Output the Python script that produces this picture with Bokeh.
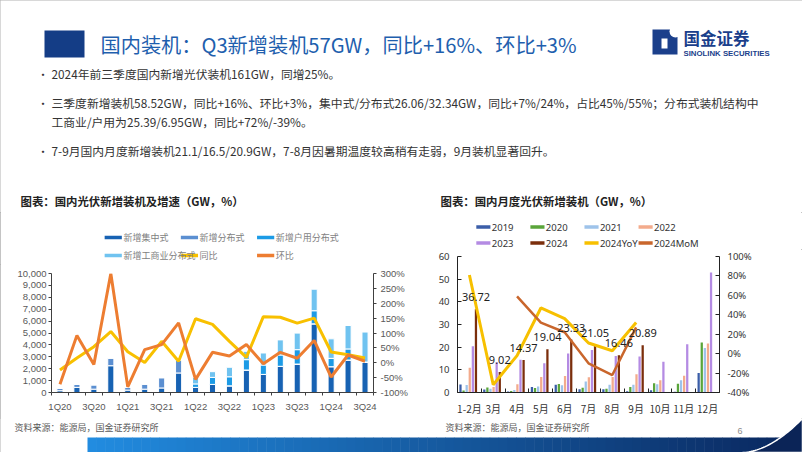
import numpy as np
from bokeh.plotting import figure
from bokeh.models import (Range1d, LinearAxis, FixedTicker, NumeralTickFormatter, ColumnDataSource)
from bokeh.layouts import column, row
from bokeh.transform import dodge
from bokeh.core.properties import value
from bokeh.embed import file_html
from bokeh.resources import INLINE

CJK = "Noto Sans CJK SC"
NAN = float("nan")

# ---------------- data: left chart (quarterly, 万kW) ----------------
quarters = ["1Q20", "2Q20", "3Q20", "4Q20", "1Q21", "2Q21", "3Q21", "4Q21",
            "1Q22", "2Q22", "3Q22", "4Q22", "1Q23", "2Q23", "3Q23", "4Q23",
            "1Q24", "2Q24", "3Q24"]
central = [150, 430, 280, 2250, 200, 280, 380, 1640, 430, 680, 560, 1890,
           1520, 2200, 2390, 5770, 2170, 2730, 2560]
distributed = [220, 270, 370, 650, 250, 430, 870, 1100, 0, 0, 0, 0,
               0, 0, 0, 0, 0, 0, 0]
household = [0, 0, 0, 0, 0, 0, 0, 0, 290, 590, 760, 870,
             790, 950, 1210, 1100, 700, 930, 0]
commercial = [0, 0, 0, 0, 0, 0, 0, 0, 550, 480, 800, 700,
              1010, 1270, 1390, 1810, 1640, 1970, 2520]
q_yoy = [-0.245, 0.16, 0.54, 1.05, 0.37, 0.01, 0.72, 0.05, 1.48, 1.29, 0.72,
         0.18, 1.55, 1.53, 1.33, 1.50, 0.36, 0.27, 0.16]
q_qoq = [-0.72, 0.92, -0.06, 3.00, -0.81, 0.44, 0.61, 1.34, -0.56, 0.35, 0.23,
         0.61, -0.03, 0.35, 0.15, 0.75, -0.48, 0.26, 0.05]
left_series = ["新增集中式", "新增分布式", "新增户用分布式", "新增工商业分布式", "同比", "环比"]
left_ticks_y = [0, 1000, 2000, 3000, 4000, 5000, 6000, 7000, 8000, 9000, 10000]
left_ticks_pct = [-1.0, -0.5, 0.0, 0.5, 1.0, 1.5, 2.0, 2.5, 3.0]

# ---------------- data: right chart (monthly, GW) ----------------
months = ["1-2月", "3月", "4月", "5月", "6月", "7月", "8月", "9月", "10月", "11月", "12月"]
y2019 = [3.5, 1.3, 0.4, 2.4, 3.4, 1.4, 1.4, 0.6, 1.0, 0.3, 8.6]
y2020 = [0.9, 2.2, 0.7, 2.0, 3.8, 2.1, 1.7, 2.4, 4.1, 3.9, 22.1]
y2021 = [3.3, 1.7, 1.1, 2.7, 3.2, 4.9, 3.4, 3.4, 3.6, 5.4, 19.6]
y2022 = [10.9, 2.4, 3.6, 6.8, 7.3, 6.7, 6.8, 8.1, 5.4, 7.4, 21.6]
y2023 = [20.4, 13.3, 14.5, 12.9, 17.2, 18.7, 16.1, 15.9, 13.6, 21.3, 52.9]
y2024 = [36.72, 9.02, 14.37, 19.04, 23.33, 21.05, 16.46, 20.89, NAN, NAN, NAN]
yoy2024 = [0.81, -0.32, -0.02, 0.47, 0.36, 0.11, 0.03, 0.32, NAN, NAN, NAN]
mom2024 = [NAN, NAN, 0.59, 0.32, 0.22, -0.10, -0.22, 0.27, NAN, NAN, NAN]
right_series = ["2019", "2020", "2021", "2022", "2023", "2024", "2024YoY", "2024MoM"]
right_ticks_y = [0, 10, 20, 30, 40, 50, 60]
right_ticks_pct = [-0.4, -0.2, 0.0, 0.2, 0.4, 0.6, 0.8, 1.0]

# ---------------- texts ----------------
title = "国内装机：Q3新增装机57GW，同比+16%、环比+3%"
bullets = [
    "2024年前三季度国内新增光伏装机161GW，同增25%。",
    "三季度新增装机58.52GW，同比+16%、环比+3%，集中式/分布式26.06/32.34GW，同比+7%/24%，占比45%/55%；分布式装机结构中",
    "工商业/户用为25.39/6.95GW，同比+72%/-39%。",
    "7-9月国内月度新增装机21.1/16.5/20.9GW，7-8月因暑期温度较高稍有走弱，9月装机显著回升。",
]
chart_title_left = "图表：国内光伏新增装机及增速（GW，%）"
chart_title_right = "图表：国内月度光伏新增装机（GW，%）"
source_note = "资料来源：能源局，国金证券研究所"

# ---------------- styles ----------------
lcols = ["#1762b3", "#5b8fd1", "#1c9be6", "#70c3f0"]
lline = ["#f8c000", "#ed7d31"]
rcols = ["#3b5ea8", "#5aa53a", "#9ec3ea", "#f3ab8c", "#b48be3", "#7b2e0c"]
rline = ["#f7c000", "#c9662c"]


# ---------------- helpers ----------------
def canvas(w, h, x0, x1, y_top, y_bot):
    p = figure(width=w, height=h, x_range=Range1d(x0, x1), y_range=Range1d(y_bot, y_top),
               output_backend="svg", toolbar_location=None, x_axis_type=None, y_axis_type=None,
               min_border=0)
    p.outline_line_color = None
    p.background_fill_color = "white"
    p.border_fill_color = "white"
    return p


def txt(p, x, y, s, size, color="#333333", font=CJK, style="normal", align="left", baseline="middle"):
    p.text(x=[x], y=[y], text=[s], text_font=value(font), text_font_size=size,
           text_color=color, text_font_style=style, text_align=align, text_baseline=baseline)


def legend_block(p, labels, colors, x0, y0, col_pitch, row_pitch, ncols, glyph_w, size, color, font):
    xs0, xs1, ys, cs, tx, ty = [], [], [], [], [], []
    for i, (lab, c) in enumerate(zip(labels, colors)):
        cx = x0 + (i % ncols) * col_pitch
        cy = y0 + (i // ncols) * row_pitch
        xs0.append(cx); xs1.append(cx + glyph_w); ys.append(cy); cs.append(c)
        tx.append(cx + glyph_w + 2); ty.append(cy)
    p.segment(x0=xs0, y0=ys, x1=xs1, y1=ys, line_color=cs, line_width=3.5)
    p.text(x=tx, y=ty, text=list(labels), text_font=value(font), text_font_size=size,
           text_color=color, text_align="left", text_baseline="middle")


# ---------------- header (0..802 x 0..212) ----------------
hdr = canvas(802, 212, 0, 802, 0, 212)
hdr.quad(left=[44], right=[84], top=[30], bottom=[57], fill_color="#143d86", line_color=None)
txt(hdr, 100, 44, title, "20.2px", color="#1f5fae")
# logo
hdr.quad(left=[652], right=[677], top=[29], bottom=[54], fill_color="#1b3f8b", line_color=None)
hdr.ellipse(x=[675], y=[31], width=[12], height=[12], fill_color="white", line_color=None)
hdr.quad(left=[661], right=[667], top=[38], bottom=[48], fill_color="white", line_color=None)
txt(hdr, 683, 37.5, "国金证券", "16.5px", color="#1b3f8b", style="bold")
txt(hdr, 683, 52.5, "SINOLINK SECURITIES", "7.8px", color="#1b3f8b", font="Liberation Sans", style="bold")
# bullets
for yy, b, dot in [(73, bullets[0], True), (102, bullets[1], True), (121, bullets[2], False), (150, bullets[3], True)]:
    if dot:
        txt(hdr, 37, yy, "•", "11px", color="#333333")
    txt(hdr, 51, yy, b, "11.8px", color="#333333")
txt(hdr, 20, 200, chart_title_left, "11.4px", color="#222222", style="bold")
txt(hdr, 440, 200, chart_title_right, "11.4px", color="#222222", style="bold")

# ---------------- left legend (0..412 x 212..264) ----------------
llf = canvas(412, 52, 0, 412, 212, 264)
legend_block(llf, left_series, lcols + lline, 68, 237, 97.5, 18, 3, 22, "9px", "#7f7f7f", CJK)

# ---------------- left chart (0..412 x 264..418) ----------------
xq = list(range(len(quarters)))
lsrc = ColumnDataSource(dict(x=xq, central=central, distributed=distributed, household=household,
                             commercial=commercial, yoy=q_yoy, qoq=q_qoq))
pl = figure(width=412, height=154, x_range=Range1d(-0.5, len(quarters) - 0.5),
            y_range=Range1d(0, 10000), output_backend="svg", toolbar_location=None,
            min_border_left=51, min_border_right=39, min_border_top=9, min_border_bottom=26)
pl.outline_line_color = None
pl.grid.visible = False
pl.vbar_stack(["central", "distributed", "household", "commercial"], x="x", width=0.36,
              source=lsrc, fill_color=lcols, line_color="white", line_width=1)
pl.extra_y_ranges = {"pct": Range1d(-1, 3)}
pl.line("x", "yoy", source=lsrc, y_range_name="pct", line_color=lline[0], line_width=3)
pl.line("x", "qoq", source=lsrc, y_range_name="pct", line_color=lline[1], line_width=3)

lax = pl.yaxis[0]
lax.ticker = FixedTicker(ticks=left_ticks_y)
lax.formatter = NumeralTickFormatter(format="0,0")
rax = LinearAxis(y_range_name="pct", ticker=FixedTicker(ticks=left_ticks_pct),
                 formatter=NumeralTickFormatter(format="0%"))
pl.add_layout(rax, "right")
for ax in (lax, rax):
    ax.axis_line_color = "#404040"
    ax.major_tick_line_color = "#404040"
    ax.major_tick_out = 3
    ax.major_tick_in = 0
    ax.minor_tick_line_color = None
    ax.major_label_text_font = "Liberation Sans"
    ax.major_label_text_font_size = "9.5px"
    ax.major_label_text_color = "#595959"
lax.major_label_standoff = 2
rax.major_label_standoff = 4
xax = pl.xaxis[0]
xax.ticker = FixedTicker(ticks=xq[::2], minor_ticks=[i - 0.5 for i in range(len(quarters) + 1)])
xax.major_label_overrides = {i: quarters[i] for i in xq[::2]}
xax.axis_line_color = "#404040"
xax.major_tick_line_color = None
xax.major_tick_out = 0
xax.minor_tick_line_color = "#404040"
xax.minor_tick_out = 3
xax.minor_tick_in = 0
xax.major_label_standoff = 5
xax.major_label_text_font = "Liberation Sans"
xax.major_label_text_font_size = "9.5px"
xax.major_label_text_color = "#595959"

# ---------------- right legend (412..802 x 212..249) ----------------
rlf = canvas(390, 37, 412, 802, 212, 249)
legend_block(rlf, right_series, rcols + rline, 440, 226.5, 80.5, 16, 4, 21, "9.5px", "#333333", "Noto Sans")

# ---------------- right chart (412..802 x 249..418) ----------------
xm = list(range(len(months)))
rsrc = ColumnDataSource(dict(x=xm, y2019=np.array(y2019), y2020=np.array(y2020), y2021=np.array(y2021),
                             y2022=np.array(y2022), y2023=np.array(y2023), y2024=np.array(y2024),
                             yoy=np.array(yoy2024), mom=np.array(mom2024)))
pr = figure(width=390, height=169, x_range=Range1d(-0.5, len(months) - 0.5), y_range=Range1d(0, 60),
            output_backend="svg", toolbar_location=None,
            min_border_left=45, min_border_right=83, min_border_top=7, min_border_bottom=23)
pr.outline_line_color = None
pr.grid.visible = False
fields = ["y2019", "y2020", "y2021", "y2022", "y2023", "y2024"]
step = 0.13
for k, (f, c) in enumerate(zip(fields, rcols)):
    pr.vbar(x=dodge("x", (k - 2.5) * step - 0.05, range=pr.x_range), top=f, width=0.095,
            source=rsrc, fill_color=c, line_color=None)
pr.extra_y_ranges = {"pct": Range1d(-0.4, 1.0)}
pr.line("x", "yoy", source=rsrc, y_range_name="pct", line_color=rline[0], line_width=3)
pr.line("x", "mom", source=rsrc, y_range_name="pct", line_color=rline[1], line_width=2.5)

valid = [i for i, v in enumerate(y2024) if v == v]
lab_src = ColumnDataSource(dict(x=[xm[i] for i in valid], y=[y2024[i] for i in valid],
                                t=["%.2f" % y2024[i] for i in valid]))
pr.text(x=dodge("x", 2.5 * step - 0.05, range=pr.x_range), y="y", text="t", source=lab_src,
        text_align="center", text_baseline="middle", y_offset=-12,
        text_font=value("Noto Sans"), text_font_size="11px", text_color="#222222")

rlax = pr.yaxis[0]
rlax.ticker = FixedTicker(ticks=right_ticks_y)
rrax = LinearAxis(y_range_name="pct", ticker=FixedTicker(ticks=right_ticks_pct),
                  formatter=NumeralTickFormatter(format="0%"))
pr.add_layout(rrax, "right")
for ax in (rlax, rrax):
    ax.axis_line_color = "#222222"
    ax.major_tick_line_color = "#222222"
    ax.major_tick_in = 4
    ax.major_tick_out = 0
    ax.minor_tick_line_color = None
    ax.major_label_standoff = 8
    ax.major_label_text_font = "Noto Sans"
    ax.major_label_text_font_size = "9.5px"
    ax.major_label_text_color = "#333333"
rxax = pr.xaxis[0]
rxax.ticker = FixedTicker(ticks=xm, minor_ticks=[i - 0.5 for i in range(len(months) + 1)])
rxax.major_label_overrides = {i: months[i] for i in xm}
rxax.axis_line_color = "#222222"
rxax.major_tick_line_color = None
rxax.major_tick_out = 0
rxax.major_tick_in = 0
rxax.minor_tick_line_color = "#222222"
rxax.minor_tick_in = 4
rxax.minor_tick_out = 0
rxax.major_label_standoff = 8
rxax.major_label_text_font = CJK
rxax.major_label_text_font_size = "10px"
rxax.major_label_text_color = "#333333"

# ---------------- footer (0..802 x 418..452) ----------------
ftr = canvas(802, 34, 0, 802, 418, 452)
txt(ftr, 14, 427, source_note, "9px", color="#595959")
txt(ftr, 445, 427, source_note, "9px", color="#595959")
txt(ftr, 737, 430, "6", "9px", color="#8c8c8c", font="Liberation Sans")
n = 80
c0 = np.array([0x22, 0x8c, 0xe0])
c1 = np.array([0x0a, 0x27, 0x5e])
edges = np.linspace(87, 802, n + 1)
cols = []
for i in range(n):
    t = i / (n - 1)
    c = (c0 * (1 - t) + c1 * t).astype(int)
    cols.append("#%02x%02x%02x" % tuple(c))
ftr.quad(left=edges[:-1], right=edges[1:] + 0.5, top=[437] * n, bottom=[452] * n,
         fill_color=cols, line_color=None)
tt = np.linspace(0, 1, 30)
sx = list(742 + 60 * tt)
sy = list(452 - 34 * tt ** 1.8)
ftr.patch(x=sx + [802, 742], y=sy + [452, 452], fill_color="#0b2457", line_color="white", line_width=1.5)

layout = column(hdr, row(column(llf, pl), column(rlf, pr)), ftr,
                styles={"outline": "1px solid #b0b0b0", "outline-offset": "-1px"})
open("out.html", "w").write(file_html(layout, INLINE))
